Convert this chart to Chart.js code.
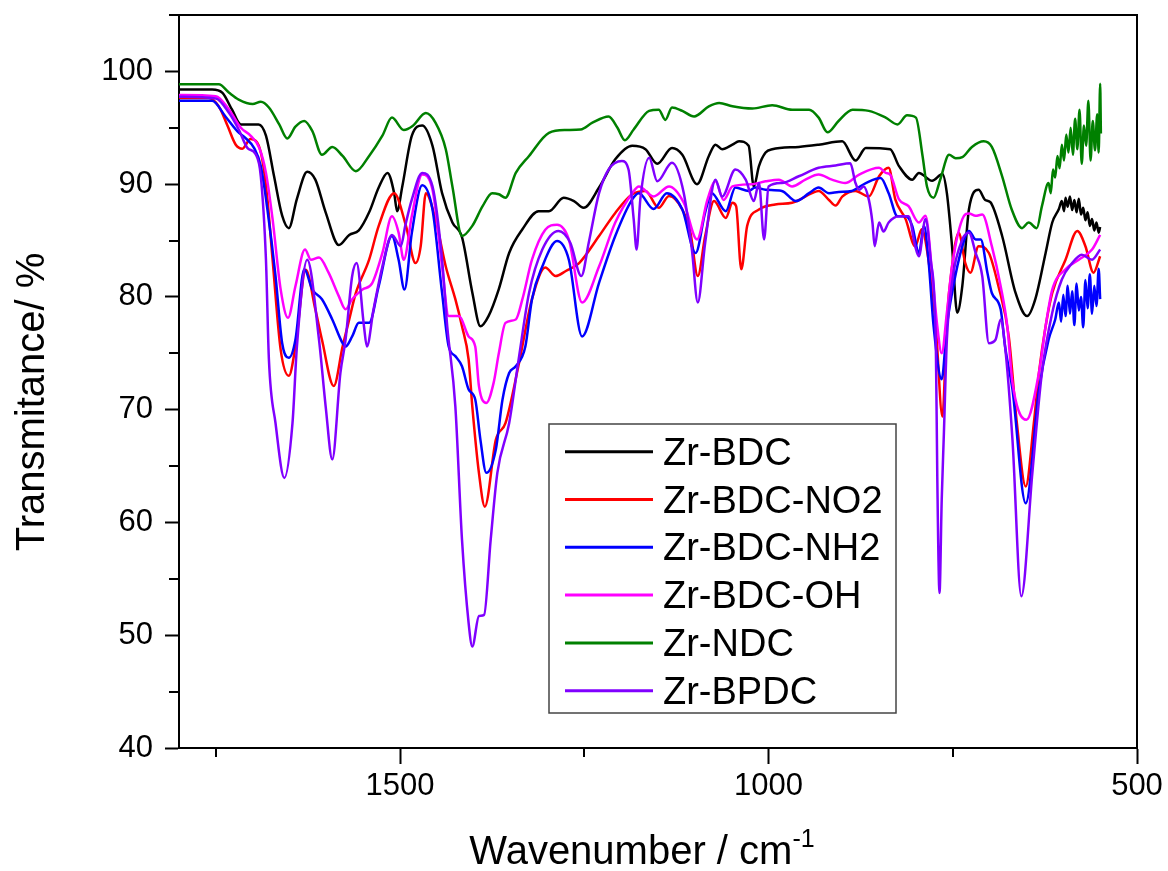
<!DOCTYPE html>
<html>
<head>
<meta charset="utf-8">
<title>FTIR spectra of Zr MOFs</title>
<script src="https://cdn.jsdelivr.net/npm/chart.js@4.4.1/dist/chart.umd.min.js"></script>
<style>
  html, body { margin: 0; padding: 0; background: #fff; }
  #wrap { width: 1168px; height: 871px; }
</style>
</head>
<body>
<div id="wrap"><canvas id="ftirChart" width="1168" height="871"></canvas></div>
<script>
// series as [wavenumber, transmittance] pairs
const bdcPoints = [[1800,98.4],[1755,98.4],[1741,98.1],[1728,96.6],[1716,95.3],[1692,95.3],[1682,94.3],[1671,90.7],[1660,87.2],[1651,86.1],[1640,88.7],[1626,91.1],[1615,90.4],[1601,87.5],[1583,84.6],[1569,85.5],[1556,85.9],[1542,87.5],[1529,89.7],[1517,91.0],[1508,89.2],[1504,87.6],[1497,89.8],[1484,94.3],[1470,95.2],[1456,93.4],[1443,89.2],[1429,86.6],[1416,85.3],[1402,80.4],[1391,77.4],[1380,78.3],[1366,80.7],[1352,83.9],[1334,86.0],[1312,87.6],[1298,87.6],[1278,88.8],[1264,88.5],[1251,87.9],[1230,89.7],[1208,92.2],[1185,93.4],[1167,93.1],[1151,91.8],[1131,93.2],[1117,92.6],[1097,90.0],[1081,92.5],[1072,93.5],[1063,93.1],[1049,93.5],[1040,93.8],[1027,93.4],[1020,89.8],[1013,91.6],[1004,92.8],[995,93.1],[959,93.3],[932,93.5],[900,93.8],[882,92.1],[868,93.2],[835,93.1],[823,91.6],[805,90.4],[796,91.0],[778,90.3],[764,90.9],[758,89.2],[751,84.5],[744,78.6],[737,81.0],[728,87.8],[715,89.5],[706,88.6],[699,88.4],[683,85.4],[665,80.4],[649,78.3],[638,79.8],[624,83.9],[615,86.6],[606,87.8],[602,88.5],[599,87.6],[597,88.8],[594,88.0],[591,88.9],[588,87.7],[585,88.6],[582,87.5],[579,88.7],[576,87.3],[573,87.9],[570,86.8],[567,87.5],[564,86.3],[561,86.9],[558,85.9],[555,86.6],[552,85.7],[550,86.2]];

const no2Points = [[1800,97.65],[1760,97.65],[1746,96.9],[1734,95.15],[1723,93.5],[1714,93.15],[1703,94.0],[1694,93.7],[1687,92.2],[1680,88.65],[1673,83.3],[1662,75.3],[1651,73.0],[1642,75.6],[1628,82.4],[1615,78.9],[1606,76.2],[1590,72.1],[1578,75.6],[1569,78.0],[1560,80.35],[1542,83.3],[1529,86.3],[1508,89.2],[1492,86.3],[1479,83.0],[1472,84.5],[1465,89.2],[1452,86.9],[1438,82.7],[1425,79.8],[1416,77.4],[1407,74.45],[1402,70.3],[1393,64.4],[1385,61.4],[1370,67.35],[1357,68.8],[1339,74.0],[1321,79.8],[1303,82.6],[1289,81.85],[1275,82.3],[1257,83.0],[1230,85.4],[1208,87.45],[1185,89.1],[1167,89.4],[1149,87.9],[1135,88.95],[1117,87.75],[1106,85.7],[1096,81.85],[1086,85.4],[1074,88.5],[1058,87.0],[1049,88.35],[1044,88.05],[1037,82.45],[1029,86.3],[1013,87.75],[991,88.2],[968,88.35],[941,89.2],[932,89.4],[918,88.6],[909,88.1],[900,88.9],[882,89.4],[864,88.9],[850,90.7],[837,91.45],[828,88.65],[814,86.9],[801,84.5],[792,86.0],[783,83.3],[773,77.4],[764,69.4],[758,78.0],[751,82.7],[742,85.7],[733,83.0],[726,82.15],[715,84.5],[701,83.9],[688,80.95],[674,76.5],[663,68.8],[651,63.2],[640,68.8],[633,73.3],[624,77.4],[615,80.35],[597,83.3],[581,85.85],[570,84.5],[559,82.15],[550,83.6]];

const nh2Points = [[1800,97.4],[1755,97.4],[1737,96.0],[1721,94.7],[1710,94.1],[1698,93.2],[1689,91.6],[1680,87.75],[1669,81.85],[1660,75.9],[1651,74.6],[1642,76.2],[1630,82.45],[1619,80.65],[1606,79.8],[1592,78.0],[1578,75.9],[1574,75.6],[1565,76.5],[1556,77.7],[1542,77.7],[1529,80.95],[1511,85.4],[1502,83.3],[1494,80.65],[1484,85.7],[1470,89.9],[1456,87.75],[1443,80.35],[1434,75.6],[1425,74.75],[1416,73.85],[1407,71.8],[1398,70.9],[1391,67.35],[1383,64.4],[1370,66.5],[1361,70.9],[1352,73.25],[1343,73.85],[1330,75.6],[1321,79.8],[1307,82.7],[1287,84.95],[1271,83.3],[1253,76.5],[1230,81.25],[1208,85.4],[1185,88.65],[1176,89.2],[1156,87.8],[1138,89.2],[1117,87.75],[1099,83.9],[1086,87.5],[1077,89.2],[1058,87.6],[1045,89.7],[1027,89.4],[1018,89.7],[1004,89.5],[982,89.4],[963,88.5],[945,89.2],[932,89.7],[918,89.2],[905,89.3],[887,89.4],[868,90.1],[848,90.55],[837,89.2],[825,87.15],[814,87.15],[805,86.3],[796,83.9],[789,86.3],[783,83.3],[776,77.4],[765,72.7],[758,77.4],[751,80.35],[737,84.5],[728,85.85],[719,85.1],[712,85.1],[703,82.15],[697,80.35],[685,78.9],[679,75.6],[669,71.8],[651,61.7],[633,71.8],[620,76.2],[611,78.0],[606,79.5],[603,77.8],[600,80.2],[597,78.3],[594,81.0],[591,78.5],[588,80.5],[585,77.5],[582,81.2],[579,78.8],[576,80.0],[573,77.3],[570,81.5],[567,79.0],[564,82.0],[561,78.5],[558,81.0],[555,79.2],[552,82.5],[550,79.8]];

const ohPoints = [[1800,97.9],[1750,97.8],[1732,96.6],[1716,95.0],[1703,94.3],[1691,93.2],[1682,91.0],[1673,86.9],[1662,80.65],[1652,78.15],[1642,80.95],[1629,84.2],[1621,83.3],[1610,83.5],[1597,82.15],[1583,80.05],[1574,78.9],[1565,79.8],[1551,80.65],[1538,81.2],[1524,83.9],[1511,87.15],[1502,85.7],[1495,83.3],[1484,87.2],[1470,90.85],[1456,89.5],[1443,82.7],[1434,78.3],[1420,78.3],[1407,76.5],[1398,75.6],[1393,72.1],[1383,70.6],[1373,72.4],[1366,75.0],[1357,77.7],[1343,78.0],[1334,79.8],[1321,83.3],[1303,85.95],[1287,86.4],[1271,85.1],[1253,79.5],[1230,82.7],[1208,86.6],[1185,89.2],[1176,89.8],[1156,88.9],[1135,89.8],[1115,88.35],[1097,85.1],[1083,88.6],[1072,90.25],[1061,88.6],[1049,89.8],[1022,90.0],[1004,90.25],[986,90.4],[968,89.8],[950,90.4],[932,90.85],[914,90.4],[896,90.1],[877,90.85],[850,91.45],[841,91.0],[835,90.85],[823,88.65],[810,88.05],[796,86.6],[787,87.2],[778,82.15],[771,77.4],[765,75.0],[758,78.6],[751,82.7],[737,86.9],[728,87.4],[719,87.2],[710,87.3],[697,84.5],[685,80.95],[676,77.4],[669,72.4],[650,69.1],[633,73.3],[624,77.4],[615,80.65],[597,82.45],[579,83.3],[561,84.2],[550,85.5]];

const ndcPoints = [[1800,98.85],[1746,98.85],[1732,98.1],[1719,97.5],[1700,97.1],[1689,97.3],[1678,96.8],[1664,95.3],[1653,94.05],[1642,95.1],[1630,95.6],[1619,94.7],[1606,92.6],[1592,93.3],[1578,92.5],[1560,91.15],[1542,92.5],[1524,94.3],[1511,95.9],[1495,94.8],[1483,95.15],[1465,96.3],[1452,95.45],[1438,93.1],[1429,89.8],[1416,85.4],[1402,86.3],[1388,88.05],[1375,89.2],[1366,89.1],[1357,88.8],[1343,91.0],[1325,92.5],[1298,94.55],[1275,94.8],[1255,94.85],[1239,95.45],[1217,96.0],[1205,95.0],[1195,93.9],[1183,94.85],[1162,96.5],[1149,96.6],[1140,95.7],[1131,96.8],[1117,96.5],[1101,96.0],[1081,96.9],[1067,97.2],[1049,96.9],[1022,96.7],[995,97.0],[968,96.6],[945,96.6],[932,95.9],[920,94.6],[905,95.6],[886,96.6],[864,96.5],[841,95.9],[825,95.3],[812,96.1],[800,95.9],[791,92.5],[785,89.8],[776,88.8],[767,90.4],[755,92.6],[746,92.3],[737,92.4],[724,93.3],[708,93.8],[697,93.3],[683,90.7],[670,87.75],[656,86.1],[647,86.6],[636,86.1],[629,88.05],[620,90.1],[617,89.2],[614,91.3],[611,90.6],[608,92.5],[605,91.4],[602,93.5],[599,92.1],[596,94.4],[593,92.8],[590,95.0],[587,92.6],[584,95.8],[581,93.1],[578,96.6],[575,91.8],[572,95.2],[569,93.4],[566,97.4],[563,92.1],[560,95.6],[557,93.0],[554,96.2],[552,92.8],[550,98.9],[549,94.5]];

const bpdcPoints = [[1800,97.75],[1750,97.6],[1732,96.3],[1719,94.85],[1707,93.2],[1696,92.65],[1689,90.7],[1682,83.3],[1678,74.45],[1669,68.8],[1657,63.95],[1646,68.8],[1640,75.6],[1626,83.3],[1610,76.2],[1601,70.3],[1592,65.6],[1581,73.25],[1574,76.2],[1565,81.85],[1559,83.0],[1549,77.4],[1545,75.6],[1536,78.9],[1524,82.7],[1511,85.5],[1499,84.5],[1493,86.3],[1484,88.65],[1470,91.0],[1456,89.8],[1443,83.3],[1436,77.4],[1425,70.3],[1416,58.5],[1407,51.1],[1402,49.0],[1393,51.7],[1386,51.8],[1377,58.5],[1368,64.4],[1352,68.8],[1339,74.5],[1325,80.35],[1307,84.2],[1285,85.85],[1269,84.8],[1254,81.85],[1244,84.8],[1230,89.2],[1217,91.3],[1199,92.05],[1190,91.3],[1183,86.9],[1179,84.2],[1174,88.65],[1162,92.35],[1151,90.25],[1131,91.9],[1115,89.2],[1104,84.2],[1096,79.5],[1086,84.8],[1072,90.4],[1063,88.9],[1045,91.3],[1031,90.4],[1020,88.5],[1013,90.1],[1006,85.1],[1000,89.8],[982,90.1],[959,90.7],[932,91.45],[909,91.65],[889,91.85],[882,90.1],[877,89.5],[871,89.8],[864,88.65],[859,86.6],[856,84.5],[850,86.6],[844,85.8],[837,86.6],[823,87.15],[810,87.15],[801,84.5],[796,83.6],[787,86.9],[780,83.3],[773,75.9],[771,64.0],[768,53.75],[765,62.0],[762,68.0],[758,76.2],[751,81.25],[737,85.1],[728,85.7],[719,83.9],[710,81.85],[701,75.9],[692,76.2],[685,78.0],[679,75.6],[669,67.35],[657,53.45],[642,64.4],[629,73.3],[615,78.6],[602,81.55],[588,83.0],[575,83.75],[561,83.3],[550,84.2]];

const seriesNames = ['Zr-BDC', 'Zr-BDC-NO2', 'Zr-BDC-NH2', 'Zr-BDC-OH', 'Zr-NDC', 'Zr-BPDC'];
const seriesColors = ['#000000', '#ff0000', '#0000ff', '#ff00ff', '#008000', '#8000ff'];
const seriesPoints = [bdcPoints, no2Points, nh2Points, ohPoints, ndcPoints, bpdcPoints];

const xTickLabels = [1500, 1000, 500];
const xMinorTicks = [1750, 1250, 750];
const yTickLabels = [40, 50, 60, 70, 80, 90, 100];
const yMinorTicks = [45, 55, 65, 75, 85, 95, 105];

const FONT = "'Liberation Sans', Arial, sans-serif";

// frame, minor ticks, axis titles and the boxed legend inside the plot
const decorPlugin = {
    id: 'decor',
    afterDraw(chart) {
        const ctx = chart.ctx;
        const a = chart.chartArea;
        const xs = chart.scales.x;
        const ys = chart.scales.y;
        ctx.save();
        ctx.strokeStyle = '#000';
        ctx.lineWidth = 2;
        ctx.beginPath();
        ctx.moveTo(a.left - 1, a.top);
        ctx.lineTo(a.right, a.top);
        ctx.lineTo(a.right, a.bottom);
        ctx.stroke();

        ctx.beginPath();
        xMinorTicks.forEach(v => {
            const px = Math.round(xs.getPixelForValue(v));
            ctx.moveTo(px, a.bottom);
            ctx.lineTo(px, a.bottom + 9);
        });
        yMinorTicks.forEach(v => {
            const py = Math.round(ys.getPixelForValue(v));
            ctx.moveTo(a.left - 10, py);
            ctx.lineTo(a.left, py);
        });
        ctx.stroke();

        // y title
        ctx.fillStyle = '#000';
        ctx.font = '40px ' + FONT;
        ctx.save();
        ctx.translate(44, 402);
        ctx.rotate(-Math.PI / 2);
        ctx.textAlign = 'center';
        ctx.textBaseline = 'alphabetic';
        ctx.fillText('Transmitance/ %', 0, 0);
        ctx.restore();

        // x title with superscript
        const main = 'Wavenumber / cm';
        ctx.font = '40px ' + FONT;
        const wMain = ctx.measureText(main).width;
        ctx.font = '25px ' + FONT;
        const wSup = ctx.measureText('-1').width;
        const startX = 642 - (wMain + wSup) / 2;
        ctx.textAlign = 'left';
        ctx.textBaseline = 'alphabetic';
        ctx.font = '40px ' + FONT;
        ctx.fillText(main, startX, 864);
        ctx.font = '25px ' + FONT;
        ctx.fillText('-1', startX + wMain, 847);

        // legend
        const box = { left: 549, top: 424, right: 896, bottom: 713 };
        ctx.fillStyle = '#fff';
        ctx.fillRect(box.left, box.top, box.right - box.left, box.bottom - box.top);
        ctx.strokeStyle = '#444';
        ctx.lineWidth = 1.5;
        ctx.strokeRect(box.left, box.top, box.right - box.left, box.bottom - box.top);
        ctx.font = '38px ' + FONT;
        chart.data.datasets.forEach((ds, i) => {
            const ly = 451.7 + i * 47.8;
            ctx.strokeStyle = ds.borderColor;
            ctx.lineWidth = 3;
            ctx.beginPath();
            ctx.moveTo(565, ly);
            ctx.lineTo(653, ly);
            ctx.stroke();
            ctx.fillStyle = '#000';
            ctx.fillText(ds.label, 663, ly + 13);
        });
        ctx.restore();
    }
};

const ftirChart = new Chart(document.getElementById('ftirChart').getContext('2d'), {
    type: 'line',
    data: {
        datasets: seriesPoints.map((pts, i) => ({
            label: seriesNames[i],
            data: pts.map(p => ({ x: p[0], y: p[1] })),
            borderColor: seriesColors[i],
            borderWidth: 2.5,
            pointRadius: 0,
            fill: false,
            cubicInterpolationMode: 'monotone',
            order: seriesNames.length - i
        }))
    },
    options: {
        responsive: false,
        animation: false,
        layout: { padding: { left: 0, right: 31, top: 15, bottom: 0 } },
        plugins: { legend: { display: false }, tooltip: { enabled: false } },
        scales: {
            x: {
                type: 'linear',
                reverse: true,
                min: 500,
                max: 1800,
                afterBuildTicks: s => { s.ticks = xTickLabels.map(v => ({ value: v })); },
                afterFit: s => { s.height = 123; s.paddingLeft = 0; s.paddingRight = 0; },
                border: { color: '#000', width: 2 },
                grid: { drawOnChartArea: false, tickLength: 16, tickColor: '#000', tickWidth: 2 },
                ticks: { color: '#000', font: { family: FONT, size: 31 }, padding: 4, maxRotation: 0, callback: v => String(v) }
            },
            y: {
                min: 40,
                max: 105,
                afterBuildTicks: s => { s.ticks = yTickLabels.map(v => ({ value: v })); },
                afterFit: s => { s.width = 179; s.paddingTop = 0; s.paddingBottom = 0; },
                border: { color: '#000', width: 2 },
                grid: { drawOnChartArea: false, tickLength: 14, tickColor: '#000', tickWidth: 2 },
                ticks: { color: '#000', font: { family: FONT, size: 31 }, padding: 12, callback: v => String(v) }
            }
        }
    },
    plugins: [decorPlugin]
});
</script>
</body>
</html>
